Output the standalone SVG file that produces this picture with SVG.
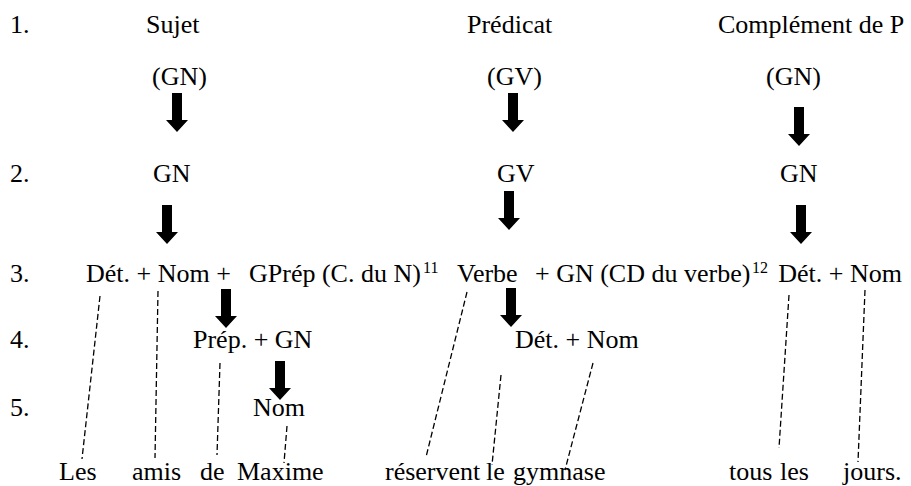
<svg xmlns="http://www.w3.org/2000/svg" xmlns:xlink="http://www.w3.org/1999/xlink" width="911" height="486" viewBox="0 0 911 486">
<style>
text{font-family:"Liberation Serif","Times New Roman",serif;font-size:26px;fill:#000}
.sup{font-size:16px}
.dash{stroke:#000;stroke-width:1.3;stroke-dasharray:6 3;fill:none}
</style>
<defs>
<path id="arr" d="M-5,0 H5 V27 H11 L0,39 L-11,27 H-5 Z" fill="#000"/>
</defs>
<rect width="911" height="486" fill="#fff"/>
<g id="row-numbers">
<text x="10" y="33">1.</text>
<text x="10" y="182">2.</text>
<text x="10" y="282">3.</text>
<text x="10" y="348">4.</text>
<text x="10" y="416">5.</text>
</g>
<g id="sujet"><text x="146" y="33">Sujet</text></g>
<g id="predicat"><text x="467" y="33">Prédicat</text></g>
<g id="complement"><text x="718" y="33">Complément de P</text></g>
<g id="gn-sujet"><text x="152" y="85">(GN)</text></g>
<g id="gv-predicat"><text x="487" y="85">(GV)</text></g>
<g id="gn-complement"><text x="766" y="85">(GN)</text></g>
<g id="gn2-sujet"><text x="153" y="182">GN</text></g>
<g id="gv2-predicat"><text x="497" y="182">GV</text></g>
<g id="gn2-complement"><text x="780" y="182">GN</text></g>
<g id="det-nom-sujet"><text x="86" y="282">Dét. + Nom +</text></g>
<g id="gprep"><text x="249" y="282">GPrép (C. du N)</text><text class="sup" x="423" y="273">11</text></g>
<g id="verbe"><text x="457" y="282">Verbe</text></g>
<g id="gn-cd"><text x="535" y="282">+ GN (CD du verbe)</text><text class="sup" x="752" y="273">12</text></g>
<g id="det-nom-complement"><text x="902" y="282" text-anchor="end">Dét. + Nom</text></g>
<g id="prep-gn"><text x="193" y="348">Prép. + GN</text></g>
<g id="det-nom-cd"><text x="515" y="348">Dét. + Nom</text></g>
<g id="nom5"><text x="253" y="416">Nom</text></g>
<g id="sentence">
<text x="59" y="480">Les</text>
<text x="132" y="480">amis</text>
<text x="200" y="480">de</text>
<text x="237" y="480">Maxime</text>
<text x="385" y="480">réservent</text>
<text x="486" y="480">le</text>
<text x="513" y="480">gymnase</text>
<text x="729" y="480">tous</text>
<text x="780" y="480">les</text>
<text x="843" y="480">jours.</text>
</g>
<g id="connectors">
<use xlink:href="#arr" href="#arr" x="177" y="93"/>
<use xlink:href="#arr" href="#arr" x="513" y="93"/>
<use xlink:href="#arr" href="#arr" x="799" y="107"/>
<use xlink:href="#arr" href="#arr" x="167" y="205"/>
<use xlink:href="#arr" href="#arr" x="509" y="191"/>
<use xlink:href="#arr" href="#arr" x="801" y="205"/>
<use xlink:href="#arr" href="#arr" x="226" y="289"/>
<use xlink:href="#arr" href="#arr" x="511" y="288"/>
<use xlink:href="#arr" href="#arr" x="280" y="361"/>
<line class="dash" x1="100" y1="296" x2="82" y2="459"/>
<line class="dash" x1="158" y1="291" x2="155" y2="458"/>
<line class="dash" x1="220" y1="363" x2="217" y2="455"/>
<line class="dash" x1="287" y1="426" x2="284" y2="463"/>
<line class="dash" x1="467" y1="292" x2="426" y2="457"/>
<line class="dash" x1="501" y1="375" x2="492" y2="465"/>
<line class="dash" x1="593" y1="363" x2="565" y2="470"/>
<line class="dash" x1="789" y1="295" x2="779" y2="448"/>
<line class="dash" x1="865" y1="290" x2="858" y2="462"/>
</g>
</svg>
